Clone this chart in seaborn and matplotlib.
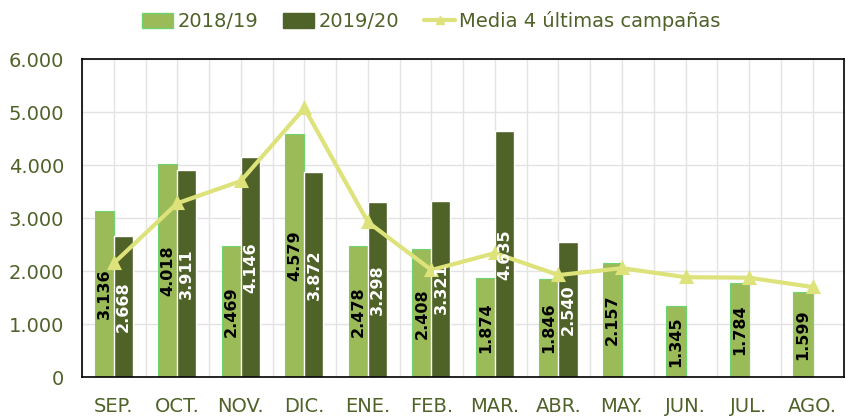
import pandas as pd
import numpy as np
import seaborn as sns
import matplotlib.pyplot as plt
from matplotlib.patches import Patch
from matplotlib.lines import Line2D
from matplotlib.ticker import FuncFormatter, MultipleLocator

# Data
months = ["SEP.", "OCT.", "NOV.", "DIC.", "ENE.", "FEB.", "MAR.", "ABR.",
          "MAY.", "JUN.", "JUL.", "AGO."]
v_2018_19 = [3136, 4018, 2469, 4579, 2478, 2408, 1874, 1846, 2157, 1345, 1784, 1599]
v_2019_20 = [2668, 3911, 4146, 3872, 3298, 3321, 4635, 2540,
             np.nan, np.nan, np.nan, np.nan]
media_4 = [2150, 3280, 3700, 5075, 2925, 2020, 2340, 1925, 2055, 1885, 1875, 1700]

light_green = "#9bbb59"
dark_green = "#4f6228"
line_yellow = "#dde27a"
text_color = "#4f6228"

sns.set_style("white")
plt.rcParams["font.family"] = ["DejaVu Sans"]

df = pd.DataFrame({
    "mes": months * 2,
    "valor": v_2018_19 + v_2019_20,
    "campana": ["2018/19"] * 12 + ["2019/20"] * 12,
})

fig = plt.figure(figsize=(8.46, 4.19), dpi=100)
ax = fig.add_axes([0.097, 0.100, 0.901, 0.759])

sns.barplot(data=df, x="mes", y="valor", hue="campana", order=months,
            palette={"2018/19": light_green, "2019/20": dark_green},
            width=0.6, saturation=1, errorbar=None, legend=False, ax=ax, zorder=2)

for bar in ax.containers[0]:
    bar.set_edgecolor("#6fd46f")
    bar.set_linewidth(0.8)

sns.pointplot(x=months, y=media_4, order=months, color=line_yellow,
              markers="^", markersize=7, linewidth=3, errorbar=None, ax=ax)

# value labels inside bars, drawn above the line
label_colors = ["black", "white"]
for cont, col in zip(ax.containers[:2], label_colors):
    labels = []
    for b in cont:
        h = b.get_height()
        labels.append("" if np.isnan(h) else f"{h:,.0f}".replace(",", "."))
    texts = ax.bar_label(cont, labels=labels, label_type="center", rotation=90,
                         color=col, fontsize=11.5, fontweight="bold")
    for t in texts:
        t.set_zorder(10)

ax.set_xlim(-0.5, 11.5)
ax.set_ylim(0, 6000)
ax.yaxis.set_major_locator(MultipleLocator(1000))
ax.yaxis.set_major_formatter(FuncFormatter(lambda v, p: f"{v:,.0f}".replace(",", ".")))
ax.set_xticks(np.arange(-0.5, 12, 1.0), minor=True)
ax.grid(True, which="both", color="#e3e3e3", linewidth=1, zorder=0)
ax.set_axisbelow(True)
ax.set_xlabel("")
ax.set_ylabel("")
ax.tick_params(axis="x", which="major", direction="in", length=4, color="black",
               labelsize=14, labelcolor=text_color, pad=14)
ax.tick_params(axis="x", which="minor", length=0)
ax.tick_params(axis="y", length=0, labelsize=14, labelcolor=text_color, pad=13)

for s in ax.spines.values():
    s.set_visible(True)
    s.set_color("black")
    s.set_linewidth(1.2)

handles = [
    Patch(facecolor=light_green, edgecolor="#6fd46f", label="2018/19"),
    Patch(facecolor=dark_green, edgecolor=dark_green, label="2019/20"),
    Line2D([0], [0], color=line_yellow, lw=3, marker="^", markersize=6,
           label="Media 4 últimas campañas"),
]
fig.legend(handles=handles, loc="upper center", bbox_to_anchor=(0.51, 1.015),
           ncol=3, frameon=False, fontsize=14, labelcolor=text_color,
           handlelength=1.6, handleheight=0.8, handletextpad=0.2,
           columnspacing=1.3)

fig.savefig("out.png", dpi=100)
